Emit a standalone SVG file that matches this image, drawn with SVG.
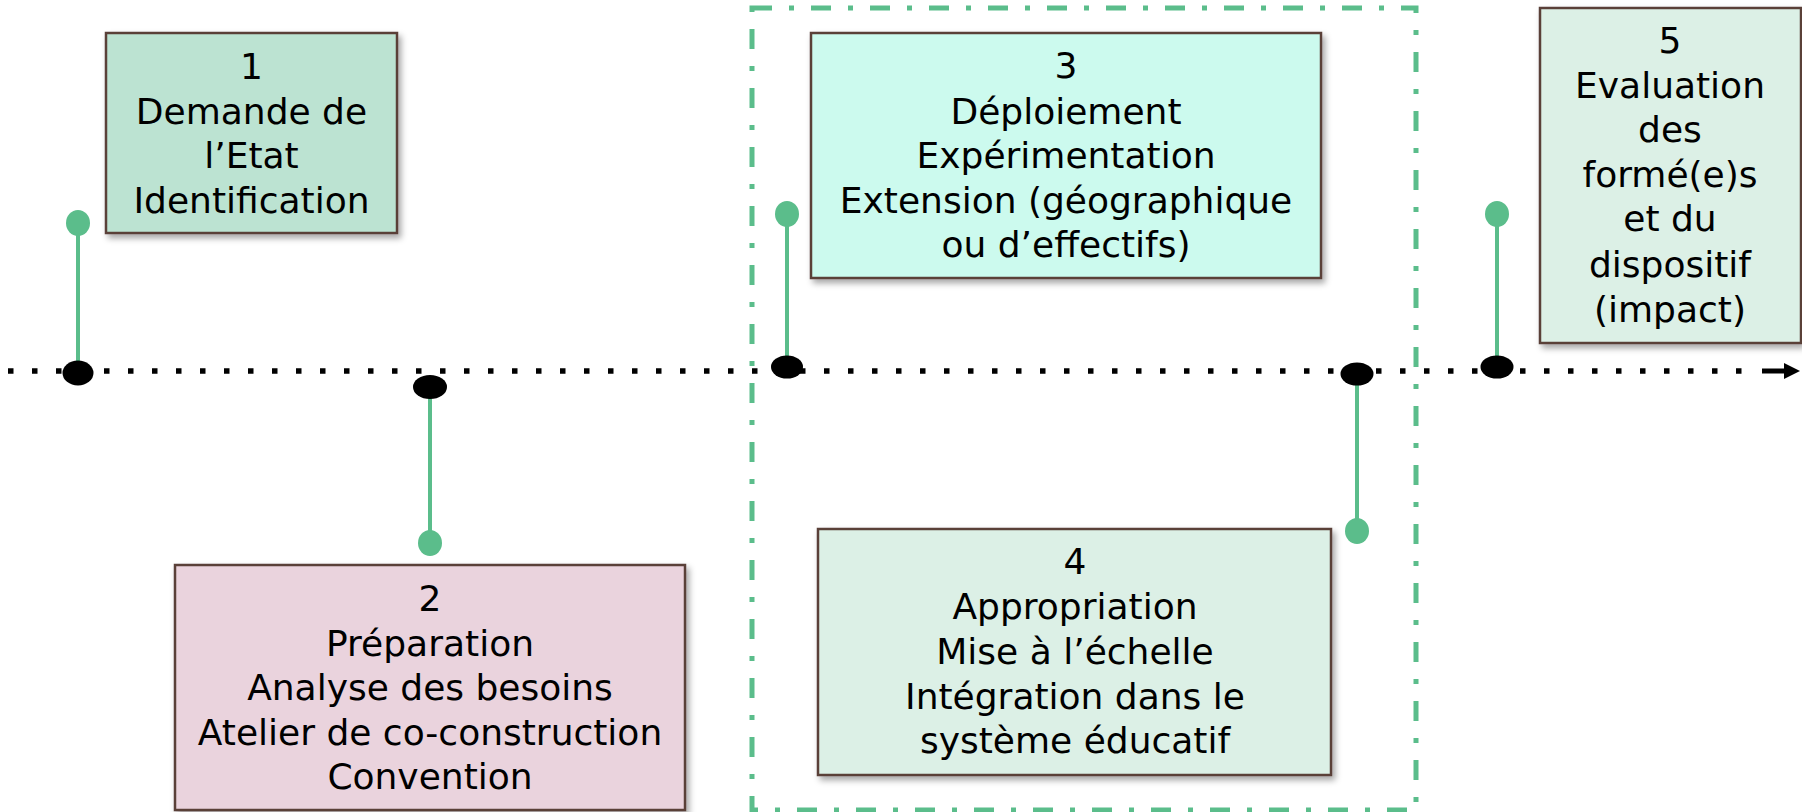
<svg xmlns="http://www.w3.org/2000/svg" width="1802" height="812" viewBox="0 0 1802 812">
  <defs>
    <filter id="shadow" x="-10%" y="-10%" width="130%" height="130%">
      <feDropShadow dx="3" dy="4" stdDeviation="3" flood-color="#000" flood-opacity="0.35"/>
    </filter>
    <style>
      .box { stroke: #5A4039; stroke-width: 2.5; filter: url(#shadow); }
      .lbl { font-family: "DejaVu Sans", "Liberation Sans", sans-serif; font-size: 36px; fill: #000; text-anchor: middle; }
      .stem { stroke: #5BBD8B; stroke-width: 4; fill: none; }
      .head { fill: #5BBD8B; }
      .knot { fill: #000; }
      .frame { fill: none; stroke: #5BBD8B; stroke-width: 5; stroke-dasharray: 20 17 5 17; }
    </style>
  </defs>
  <rect width="1802" height="812" fill="#fff"/>

  <g id="frame-3-4">
    <rect class="frame" x="752" y="8" width="664" height="802"/>
  </g>

  <g id="connectors">
    <line x1="8" y1="371" x2="1760" y2="371" stroke="#000" stroke-width="5.5" stroke-dasharray="5.5 18.5"/>
    <line x1="1762" y1="371" x2="1786" y2="371" stroke="#000" stroke-width="5"/>
    <polygon points="1784,363 1800,371 1784,379" fill="#000"/>
    <!-- pin 1 -->
    <line class="stem" x1="78" y1="223" x2="78" y2="373"/>
    <ellipse class="head" cx="78" cy="223" rx="12" ry="13"/>
    <ellipse class="knot" cx="78" cy="373" rx="15.5" ry="12.5"/>
    <!-- pin 2 -->
    <line class="stem" x1="430" y1="387" x2="430" y2="543"/>
    <ellipse class="head" cx="430" cy="543" rx="12" ry="13"/>
    <ellipse class="knot" cx="430" cy="387" rx="17" ry="12"/>
    <!-- pin 3 -->
    <line class="stem" x1="787" y1="214" x2="787" y2="367"/>
    <ellipse class="head" cx="787" cy="214" rx="12" ry="13"/>
    <ellipse class="knot" cx="787" cy="367" rx="16" ry="11.5"/>
    <!-- pin 4 -->
    <line class="stem" x1="1357" y1="374" x2="1357" y2="531"/>
    <ellipse class="head" cx="1357" cy="531" rx="12" ry="13"/>
    <ellipse class="knot" cx="1357" cy="374" rx="16.5" ry="11.5"/>
    <!-- pin 5 -->
    <line class="stem" x1="1497" y1="214" x2="1497" y2="367"/>
    <ellipse class="head" cx="1497" cy="214" rx="12" ry="13"/>
    <ellipse class="knot" cx="1497" cy="367" rx="16.5" ry="11.5"/>
  </g>

  <g id="node-1">
    <rect class="box" x="106" y="33" width="291" height="200" fill="#BCE3D2"/>
    <text class="lbl" x="251.5" y="79">1</text>
    <text class="lbl" x="251.5" y="124">Demande de</text>
    <text class="lbl" x="251.5" y="168">l’Etat</text>
    <text class="lbl" x="251.5" y="213">Identification</text>
  </g>

  <g id="node-2">
    <rect class="box" x="175" y="565" width="510" height="245" fill="#EAD3DD"/>
    <text class="lbl" x="430" y="611">2</text>
    <text class="lbl" x="430" y="656">Préparation</text>
    <text class="lbl" x="430" y="700">Analyse des besoins</text>
    <text class="lbl" x="430" y="745">Atelier de co-construction</text>
    <text class="lbl" x="430" y="789">Convention</text>
  </g>

  <g id="node-3">
    <rect class="box" x="811" y="33" width="510" height="245" fill="#CCFAEE"/>
    <text class="lbl" x="1066" y="78">3</text>
    <text class="lbl" x="1066" y="124">Déploiement</text>
    <text class="lbl" x="1066" y="168">Expérimentation</text>
    <text class="lbl" x="1066" y="213">Extension (géographique</text>
    <text class="lbl" x="1066" y="257">ou d’effectifs)</text>
  </g>

  <g id="node-4">
    <rect class="box" x="818" y="529" width="513" height="246" fill="#DCF0E6"/>
    <text class="lbl" x="1075" y="574">4</text>
    <text class="lbl" x="1075" y="619">Appropriation</text>
    <text class="lbl" x="1075" y="664">Mise à l’échelle</text>
    <text class="lbl" x="1075" y="709">Intégration dans le</text>
    <text class="lbl" x="1075" y="753">système éducatif</text>
  </g>

  <g id="node-5">
    <rect class="box" x="1540" y="8" width="261" height="335" fill="#DCF0E6"/>
    <text class="lbl" x="1670" y="53">5</text>
    <text class="lbl" x="1670" y="98">Evaluation</text>
    <text class="lbl" x="1670" y="142">des</text>
    <text class="lbl" x="1670" y="187">formé(e)s</text>
    <text class="lbl" x="1670" y="231">et du</text>
    <text class="lbl" x="1670" y="277">dispositif</text>
    <text class="lbl" x="1670" y="322">(impact)</text>
  </g>
</svg>
